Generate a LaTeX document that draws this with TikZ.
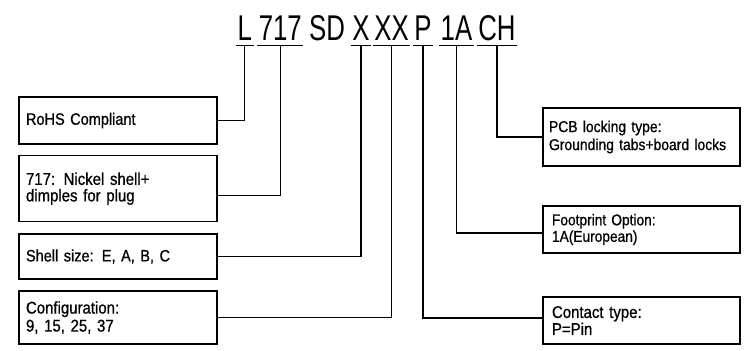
\documentclass[tikz,border=0pt]{standalone}
\usepackage{fontspec}
\setmainfont{Liberation Sans}
\newfontfamily\topfont[FakeStretch=0.72]{Liberation Sans}
\newfontfamily\boxfont[FakeStretch=0.88,WordSpace=2.0,FakeBold=0.8]{Liberation Sans}
\begin{document}
\begin{tikzpicture}[x=1pt,y=-1pt,line width=1.3pt,
  tok/.style={inner sep=0pt,anchor=base,font=\topfont\fontsize{35.8}{36}\selectfont},
  infobox/.style={draw,rectangle,minimum width=198pt,inner xsep=7pt,inner ysep=0pt,
    text width=184pt,align=left,font=\boxfont\fontsize{16.5}{17}\selectfont},
  smallfont/.style={font=\boxfont\fontsize{15.6}{16.5}\selectfont}]
\useasboundingbox (0,0) rectangle (753,351);
% part number tokens
\node[tok] (tL)   at (244.7,40.3) {L};
\node[tok] (t717) at (280.3,40.3) {717};
\node[tok] (tSD)  at (327,40.3)   {SD};
\node[tok] (tX)   at (361,40.3)   {X};
\node[tok] (tXX)  at (391.5,40.3) {XX};
\node[tok] (tP)   at (423,40.3)   {P};
\node[tok] (t1A)  at (456.5,40.3) {1A};
\node[tok] (tCH)  at (497,40.3)   {CH};
\coordinate (ul) at (0,45.6);
\foreach \t in {tL,t717,tX,tXX,tP,t1A,tCH}
  \draw ([xshift=-1pt]\t.base west |- ul) -- ([xshift=1pt]\t.base east |- ul);
% left boxes
\node[infobox,minimum height=47pt] (rohs) at (118,120.5) {RoHS Compliant};
\node[infobox,minimum height=66pt,font=\boxfont\fontsize{17}{16.5}\selectfont] (nickel) at (118,188.7) {717: Nickel shell+\\dimples for plug};
\node[infobox,minimum height=45pt] (shell) at (118,256.5) {Shell size: E, A, B, C};
\node[infobox,minimum height=53pt,font=\boxfont\fontsize{17}{18}\selectfont] (config) at (118,317.5) {Configuration:\\9, 15, 25, 37};
% right boxes
\node[infobox,minimum width=197pt,text width=185pt,inner xsep=6pt,minimum height=58pt,font=\boxfont\fontsize{15.8}{18}\selectfont] (pcb) at (641.5,137) {PCB locking type:\\Grounding tabs+board locks};
\node[infobox,minimum width=197pt,text width=179pt,inner xsep=9pt,minimum height=47pt,smallfont] (foot) at (641.5,229.5) {Footprint Option:\\1A(European)};
\node[infobox,minimum width=197pt,text width=179pt,inner xsep=9pt,minimum height=47pt,font=\boxfont\fontsize{17}{17}\selectfont] (contact) at (641.5,320.5) {Contact type:\\P=Pin};
% connectors
\draw (tL.base |- ul) |- (rohs.east);
\draw (t717.base |- ul) |- ([yshift=-6.5pt]nickel.east);
\draw (tX.base |- ul) |- (shell.east);
\draw (tXX.base |- ul) |- (config.east);
\draw (tP.base |- ul) |- ([yshift=2.5pt]contact.west);
\draw (t1A.base |- ul) |- ([yshift=-3.5pt]foot.west);
\draw (tCH.base |- ul) |- (pcb.west);
\end{tikzpicture}
\end{document}
